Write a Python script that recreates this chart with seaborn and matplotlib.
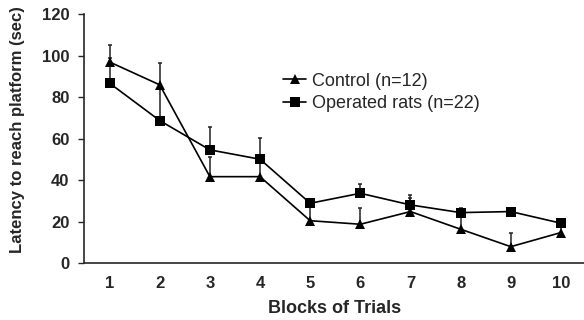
import matplotlib
matplotlib.use("Agg")
import matplotlib.pyplot as plt
import seaborn as sns
import pandas as pd
import numpy as np

blocks = [1, 2, 3, 4, 5, 6, 7, 8, 9, 10]
control_mean = [96.9, 85.9, 41.7, 41.7, 20.5, 18.8, 24.9, 16.4, 8.0, 14.8]
control_err = [8.0, 10.3, 9.4, 7.5, 7.5, 7.7, 6.6, 7.5, 6.5, 3.0]
operated_mean = [86.7, 68.7, 54.6, 50.1, 28.9, 33.7, 28.1, 24.4, 24.9, 19.3]
operated_err = [12.3, 15.3, 10.9, 10.4, 1.5, 4.5, 4.8, 2.1, 1.0, 1.9]
labels = ["Control (n=12)", "Operated rats (n=22)"]
yticks = [0, 20, 40, 60, 80, 100, 120]

sns.set_style("ticks")
plt.rcParams['font.family'] = ['Liberation Sans', 'DejaVu Sans']

df = pd.DataFrame({
    "block": blocks * 2,
    "latency": control_mean + operated_mean,
    "group": [labels[0]] * len(blocks) + [labels[1]] * len(blocks),
})

fig = plt.figure(figsize=(5.84, 3.2), dpi=100)
ax = fig.add_axes([84 / 584, 1 - 263.3 / 320, 1 - 84 / 584, (263.3 - 14) / 320])

# error bars (upper only)
for mean, err in [(operated_mean, operated_err), (control_mean, control_err)]:
    ax.errorbar(blocks, mean, yerr=[np.zeros(len(err)), err], fmt='none',
                ecolor='#222222', elinewidth=1.1, capsize=1.6, capthick=1.1, zorder=2)

sns.lineplot(data=df, x="block", y="latency", hue="group", style="group",
             markers={labels[0]: '^', labels[1]: 's'}, dashes=False,
             palette={labels[0]: 'black', labels[1]: 'black'},
             markersize=7.5, linewidth=1.2, markeredgewidth=0, ax=ax, zorder=3)

ax.set_xlim(0.49, 10.46)
ax.set_ylim(0, 120)
ax.set_yticks(yticks)
ax.set_xticks(blocks)
ax.set_xticklabels([str(b) for b in blocks], fontsize=12, fontweight='bold')
ax.set_yticklabels([str(t) for t in yticks], fontsize=12, fontweight='bold')
ax.tick_params(axis='x', length=0, pad=9)
ax.tick_params(axis='y', length=4, width=1, pad=6.5, direction='out')
for s in ['top', 'right']:
    ax.spines[s].set_visible(False)
ax.spines['left'].set_linewidth(1.2)
ax.spines['bottom'].set_linewidth(1.2)

ax.set_xlabel("Blocks of Trials", fontsize=13, fontweight='bold')
ax.set_ylabel("Latency to reach platform (sec)", fontsize=12, fontweight='bold')
ax.xaxis.set_label_coords(0.502, -0.148)
ax.yaxis.set_label_coords(-0.118, 0.535)

handles, lbls = ax.get_legend_handles_labels()
leg = ax.legend(handles, lbls, loc='center left', bbox_to_anchor=(283 / 584, 1 - 92.5 / 320),
                bbox_transform=fig.transFigure, frameon=False, fontsize=13,
                handlelength=1.3, handletextpad=0.3, labelspacing=0.3,
                borderpad=0, borderaxespad=0)

fig.savefig("out.png", dpi=100)
